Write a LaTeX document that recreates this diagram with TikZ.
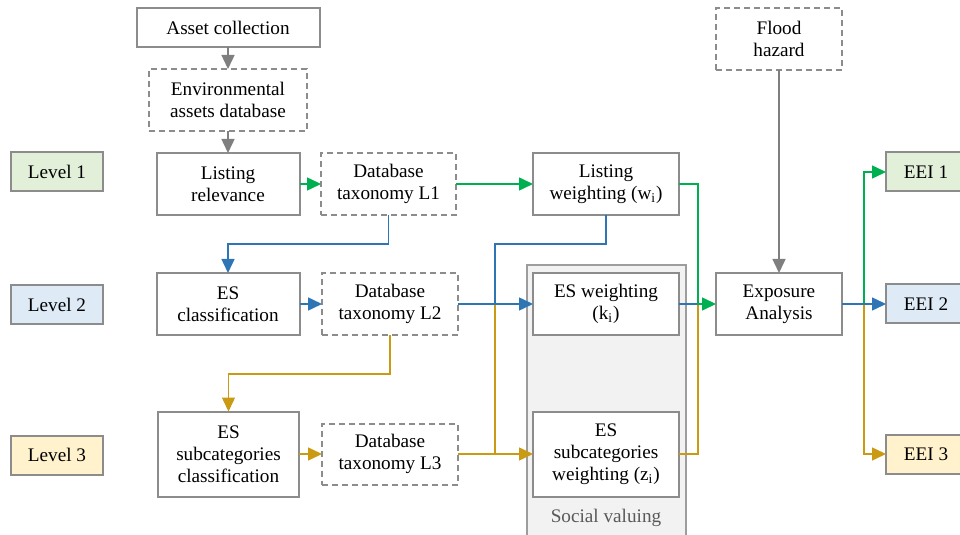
\documentclass[tikz,border=0pt]{standalone}
\usepackage{fontspec}
\setmainfont{Liberation Serif}
\usetikzlibrary{arrows.meta}
\definecolor{edge}{HTML}{8C8C8C}
\definecolor{gline}{HTML}{7F7F7F}
\definecolor{cgreen}{HTML}{00B050}
\definecolor{cblue}{HTML}{2E75B6}
\definecolor{cgold}{HTML}{C99A12}
\definecolor{lvone}{HTML}{E2EFD9}
\definecolor{lvtwo}{HTML}{DEEBF7}
\definecolor{lvthree}{HTML}{FFF2CC}
\definecolor{panel}{HTML}{F2F2F2}
\definecolor{paneltext}{HTML}{595959}

\begin{document}
\begin{tikzpicture}[x=0.5pt,y=-0.5pt,
  font=\fontsize{9.6}{11}\selectfont,
  box/.style={draw=edge,line width=1pt,fill=white,inner sep=0pt,outer sep=0pt,align=center},
  dbox/.style={box,dash pattern=on 3pt off 2pt},
  wh/.style 2 args={minimum width=#1*0.5pt,minimum height=#2*0.5pt},
  flow/.style={line width=0.75pt,-{Triangle[length=7pt,width=6.5pt]}},
  link/.style={line width=0.75pt},
]
\useasboundingbox (0,0) rectangle (960,535);
\clip (0,0) rectangle (960,535);

% grey panel grouping the social valuing steps
\node[box,fill=panel,draw=edge!85,wh={159}{290}] (social) at (606.5,410) {};
\node[text=paneltext] (socialtxt) at (606,518) {Social valuing};

% top inputs
\node[box,wh={183}{39}] (asset) at (228,27.5) {Asset collection};
\node[dbox,wh={158}{62}] (envdb) at (228,100) {Environmental\\assets database};
\node[dbox,wh={126}{62}] (flood) at (779,39) {Flood\\hazard};

% level labels
\node[box,fill=lvone,wh={92}{39}] (lev1) at (57,172) {Level 1};
\node[box,fill=lvtwo,wh={92}{39}] (lev2) at (57,305) {Level 2};
\node[box,fill=lvthree,wh={92}{39}] (lev3) at (57,455) {Level 3};

% level 1 row
\node[box,wh={143}{62}] (listrel) at (228,184) {Listing\\relevance};
\node[dbox,wh={135}{62}] (db1) at (388.5,184) {Database\\taxonomy L1};
\node[box,wh={146}{62}] (lw) at (606,184) {Listing\\weighting (w\textsubscript{i})};

% level 2 row
\node[box,wh={143}{62}] (esclass) at (228,304) {ES\\classification};
\node[dbox,wh={136}{62}] (db2) at (390,304) {Database\\taxonomy L2};
\node[box,wh={146}{62}] (esw) at (606,304) {ES weighting\\(k\textsubscript{i})};
\node[box,wh={126}{62}] (expo) at (779,304) {Exposure\\Analysis};

% level 3 row
\node[box,wh={141}{85}] (essubclass) at (228.5,454) {ES\\subcategories\\classification};
\node[dbox,wh={136}{61}] (db3) at (390,454) {Database\\taxonomy L3};
\node[box,wh={146}{85}] (essubw) at (606,454) {ES\\subcategories\\weighting (z\textsubscript{i})};

% outputs
\node[box,fill=lvone,wh={80}{39}] (eei1) at (926,172) {EEI 1};
\node[box,fill=lvtwo,wh={80}{39}] (eei2) at (926,304) {EEI 2};
\node[box,fill=lvthree,wh={80}{39}] (eei3) at (926,454) {EEI 3};

% junction points
\coordinate (k1) at (0,244);
\coordinate (k2) at (0,374);
\coordinate (jl) at (495,304);
\coordinate (jr) at (698,304);
\coordinate (jx) at (864,304);

% grey data flow
\draw[flow,gline] (asset) -- (envdb);
\draw[flow,gline] (envdb) -- (listrel);
\draw[flow,gline] (flood) -- (expo);

% level 1 chain
\draw[flow,cgreen] (listrel) -- (db1);
\draw[flow,cgreen] (db1) -- (lw);
\draw[flow,cblue] (db1.south) -- (db1.south |- k1) -| (esclass.north);

% level 2 chain
\draw[flow,cblue] (esclass) -- (db2);
\draw[link,cgold] (jl) -- (jl |- db3.east);
\draw[link,cblue] (lw.south) -- (lw.south |- k1) -| (jl);
\draw[flow,cblue] (db2) -- (esw);
\draw[flow,cgold] (db2.south) -- (db2.south |- k2) -| (essubclass.north);

% level 3 chain
\draw[flow,cgold] (essubclass) -- (db3);
\draw[flow,cgold] (db3) -- (essubw);

% weighted results into the exposure analysis
\draw[link,cblue] (esw.east) -- (jr);
\draw[link,cgold] (essubw.east) -| (jr);
\draw[flow,cgreen] (lw.east) -| (jr) -- (expo.west);

% exposure indices
\draw[flow,cgreen] (jx) |- (eei1.west);
\draw[flow,cgold] (jx) |- (eei3.west);
\draw[flow,cblue] (expo.east) -- (eei2.west);
\end{tikzpicture}
\end{document}
